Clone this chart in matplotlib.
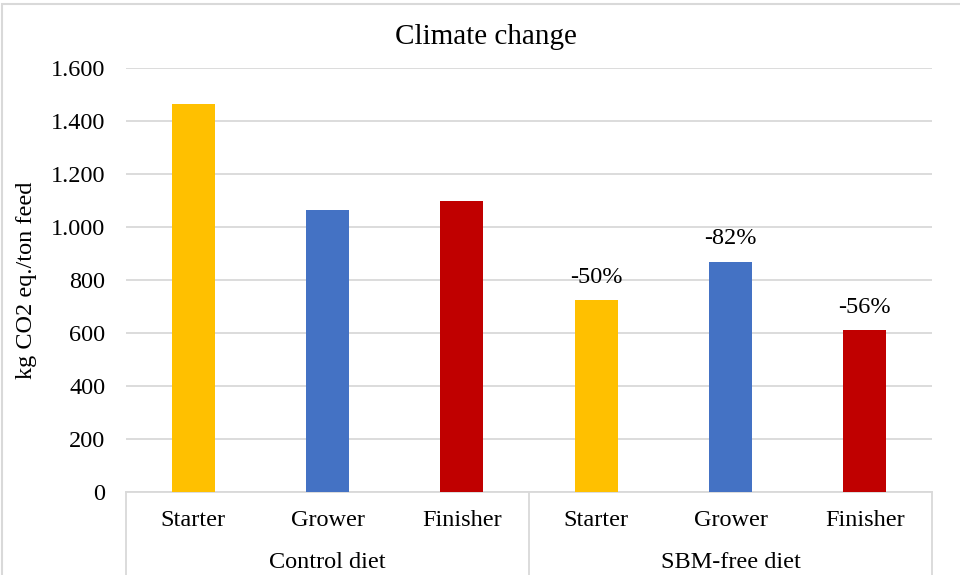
import matplotlib.pyplot as plt
from matplotlib.patches import Rectangle
from matplotlib.ticker import FuncFormatter
import matplotlib.transforms as mtransforms

plt.rcParams['font.family'] = ['Liberation Serif', 'DejaVu Serif']

# kg CO2 eq. per ton feed for each diet and phase
phases = ['Starter', 'Grower', 'Finisher']
groups = ['Control diet', 'SBM-free diet']
control = [1462, 1062, 1097]
sbm_free = [724, 868, 611]
sbm_labels = ['-50%', '-82%', '-56%']
colors = ['#FFC000', '#4472C4', '#C00000']

fs = 17.5

fig = plt.figure(figsize=(9.6, 5.75), dpi=100)
ax = fig.add_axes([0.13125, 0.1438, 0.8396, 0.7385])

values = control + sbm_free
xs = list(range(len(values)))
bars = ax.bar(xs, values, width=0.32, color=colors * 2, zorder=3)

for bar, lab in zip(bars[3:], sbm_labels):
    ax.annotate(lab, (bar.get_x() + bar.get_width() / 2, bar.get_height()),
                xytext=(0, 9), textcoords='offset points',
                ha='center', va='bottom', fontsize=fs)

ax.set_xlim(-0.5, len(values) - 0.5)
ax.set_ylim(0, 1600)
ax.set_yticks(range(0, 1601, 200))
ax.yaxis.set_major_formatter(FuncFormatter(lambda v, p: f'{int(v):,}'.replace(',', '.')))
ax.grid(axis='y', color='#D9D9D9', linewidth=1.3, zorder=0)
ax.tick_params(axis='y', length=0, pad=15, labelsize=fs)
ax.tick_params(axis='x', length=0, pad=13, labelsize=fs)
ax.set_xticks(xs)
ax.set_xticklabels(phases * 2)

for side in ['top', 'right', 'left']:
    ax.spines[side].set_visible(False)
ax.spines['bottom'].set_color('#D9D9D9')
ax.spines['bottom'].set_linewidth(1.3)

ax.set_ylabel('kg CO2 eq./ton feed', fontsize=fs, labelpad=10)
fig.text(486 / 960, 1 - 37 / 575, 'Climate change', fontsize=21,
         ha='center', va='center')

# second level of the category axis: group names and separators
trans = mtransforms.blended_transform_factory(ax.transData, ax.transAxes)
for i, g in enumerate(groups):
    ax.text(i * 3 + 1, -0.165, g, transform=trans, ha='center', va='center',
            fontsize=fs)
for x in [-0.5, 2.5, 5.5]:
    ax.plot([x, x], [0, -0.3], transform=trans, color='#D9D9D9',
            linewidth=1.3, clip_on=False)

# chart border
fig.patches.append(Rectangle((2 / 960, -0.1), 1.2, 1 - 3.5 / 575 + 0.1,
                             transform=fig.transFigure, fill=False,
                             edgecolor='#D9D9D9', linewidth=1.5))

fig.savefig('out.png', dpi=100)
